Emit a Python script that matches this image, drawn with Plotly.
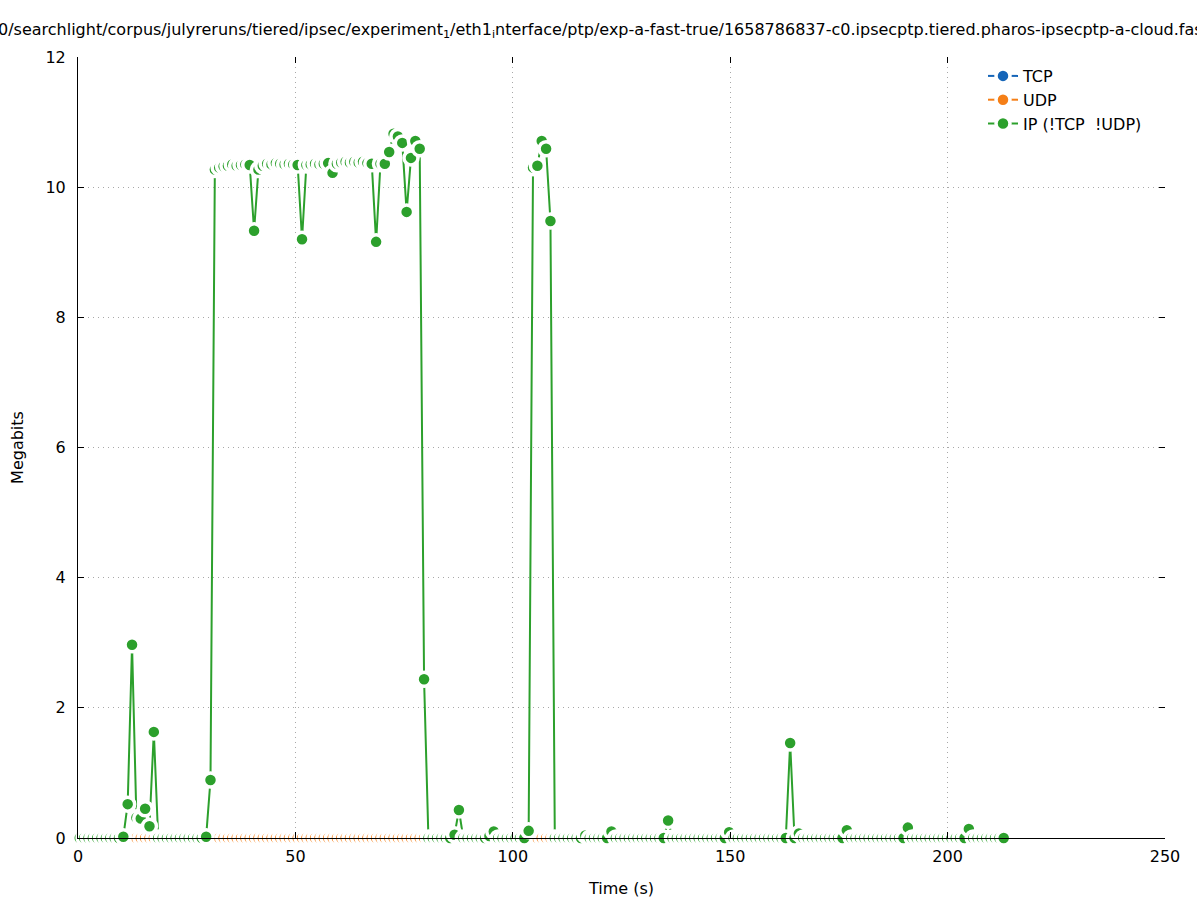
import plotly.graph_objects as go

# ---- data ----
T0 = 0.4          # first sample time (s)
DT = 1.0024       # sampling interval (s)

ip_mbits = [
    0, 0, 0, 0, 0, 0, 0, 0, 0, 0,
    0.02, 0.52, 2.97, 0.31, 0.30, 0.45, 0.18, 1.63, 0, 0,
    0, 0, 0, 0, 0, 0, 0, 0, 0, 0.02,
    0.89, 10.27, 10.30, 10.32, 10.33, 10.35, 10.33, 10.34, 10.35, 10.34,
    9.33, 10.27, 10.33, 10.36, 10.35, 10.37, 10.36, 10.35, 10.36, 10.35,
    10.34, 9.20, 10.34, 10.35, 10.36, 10.35, 10.36, 10.37, 10.22, 10.36,
    10.38, 10.39, 10.38, 10.39, 10.38, 10.39, 10.37, 10.36, 9.16, 10.36,
    10.36, 10.54, 10.82, 10.78, 10.68, 9.62, 10.45, 10.71, 10.59, 2.44,
    0, 0, 0, 0, 0, 0, 0.05, 0.43, 0, 0,
    0, 0, 0, 0, 0.03, 0.10, 0, 0, 0, 0,
    0, 0, 0, 0.11, 10.30, 10.33, 10.71, 10.59, 9.48, 0,
    0, 0, 0, 0, 0, 0, 0.04, 0, 0, 0,
    0, 0, 0.10, 0, 0, 0, 0, 0, 0, 0,
    0, 0, 0, 0, 0, 0.27, 0, 0, 0, 0,
    0, 0, 0, 0, 0, 0, 0, 0, 0, 0.09,
    0, 0, 0, 0, 0, 0, 0, 0, 0, 0,
    0, 0, 0, 1.46, 0, 0.07, 0, 0, 0, 0,
    0, 0, 0, 0, 0, 0, 0.12, 0, 0, 0,
    0, 0, 0, 0, 0, 0, 0, 0, 0, 0,
    0.16, 0, 0, 0, 0, 0, 0, 0, 0, 0,
    0, 0, 0, 0, 0.14, 0, 0, 0, 0, 0,
    0, 0, 0,
]
tcp_mbits = [0.0] * len(ip_mbits)
udp_mbits = [0.0] * len(ip_mbits)
time_s = [round(T0 + i * DT, 3) for i in range(len(ip_mbits))]

series_names = ["TCP", "UDP", "IP (!TCP\u00a0 !UDP)"]
series_colors = ["#1565b8", "#f57f17", "#2ca02c"]
series_values = [tcp_mbits, udp_mbits, ip_mbits]

x_ticks = [0, 50, 100, 150, 200, 250]
y_ticks = [0, 2, 4, 6, 8, 10, 12]

title_text = ("0/searchlight/corpus/julyreruns/tiered/ipsec/experiment<sub>1</sub>/eth1<sub>i</sub>nterface/"
              "ptp/exp-a-fast-true/1658786837-c0.ipsecptp.tiered.pharos-ipsecptp-a-cloud.fast")

FONT = "DejaVu Sans"
PLOT_W, PLOT_H = 1087, 781
ML, MT = 78, 57

fig = go.Figure()
for name, color, vals in zip(series_names, series_colors, series_values):
    fig.add_trace(go.Scatter(
        x=time_s, y=vals, name=name, mode="lines+markers",
        line=dict(color=color, width=2),
        marker=dict(color=color, size=14, line=dict(color="white", width=3.5)),
        cliponaxis=False,
    ))

# empty trace so the mirrored tick axes (top/right) are rendered
fig.add_trace(go.Scatter(x=[], y=[], xaxis="x2", yaxis="y2", showlegend=False,
                         hoverinfo="skip"))

axis_common = dict(
    ticks="inside", ticklen=6, tickwidth=1, tickcolor="black",
    showline=True, linecolor="black", linewidth=1,
    showgrid=True, gridcolor="#a8a8a8", griddash="1px,4px", gridwidth=1,
    zeroline=False, automargin=False,
    tickfont=dict(family=FONT, size=16, color="black"),
)

fig.update_layout(
    width=1197, height=900,
    margin=dict(l=ML, r=32, t=MT, b=62, autoexpand=False),
    paper_bgcolor="white", plot_bgcolor="white",
    font=dict(family=FONT, size=16, color="black"),
    showlegend=True,
    legend=dict(x=1 - 18 / PLOT_W, y=1 - 2 / PLOT_H, xanchor="right", yanchor="top",
                bgcolor="rgba(0,0,0,0)", font=dict(family=FONT, size=16),
                tracegroupgap=0, itemsizing="trace"),
    xaxis=dict(range=[0, 250], tickvals=x_ticks, ticklabelstandoff=4,
               title=dict(text="Time (s)", font=dict(family=FONT, size=16), standoff=17),
               **axis_common),
    yaxis=dict(range=[0, 12], tickvals=y_ticks, ticklabelstandoff=8,
               title=dict(text="Megabits", font=dict(family=FONT, size=16), standoff=17),
               **axis_common),
    xaxis2=dict(overlaying="x", side="top", range=[0, 250], tickvals=x_ticks,
                ticks="inside", ticklen=6, tickcolor="black", showticklabels=False,
                showgrid=False, showline=False, zeroline=False, automargin=False),
    yaxis2=dict(overlaying="y", side="right", range=[0, 12], tickvals=y_ticks,
                ticks="inside", ticklen=6, tickcolor="black", showticklabels=False,
                showgrid=False, showline=False, zeroline=False, automargin=False),
    annotations=[dict(
        text=title_text, xref="paper", yref="paper",
        x=(-4 - ML) / PLOT_W, y=1 + 27 / PLOT_H, xanchor="left", yanchor="middle",
        showarrow=False, font=dict(family=FONT, size=16, color="black"),
    )],
)

# remove the default 8px page margin so the figure fills the window exactly
fig.write_html("out.html", config={"displayModeBar": False},
               post_script="document.body.style.margin='0';")
